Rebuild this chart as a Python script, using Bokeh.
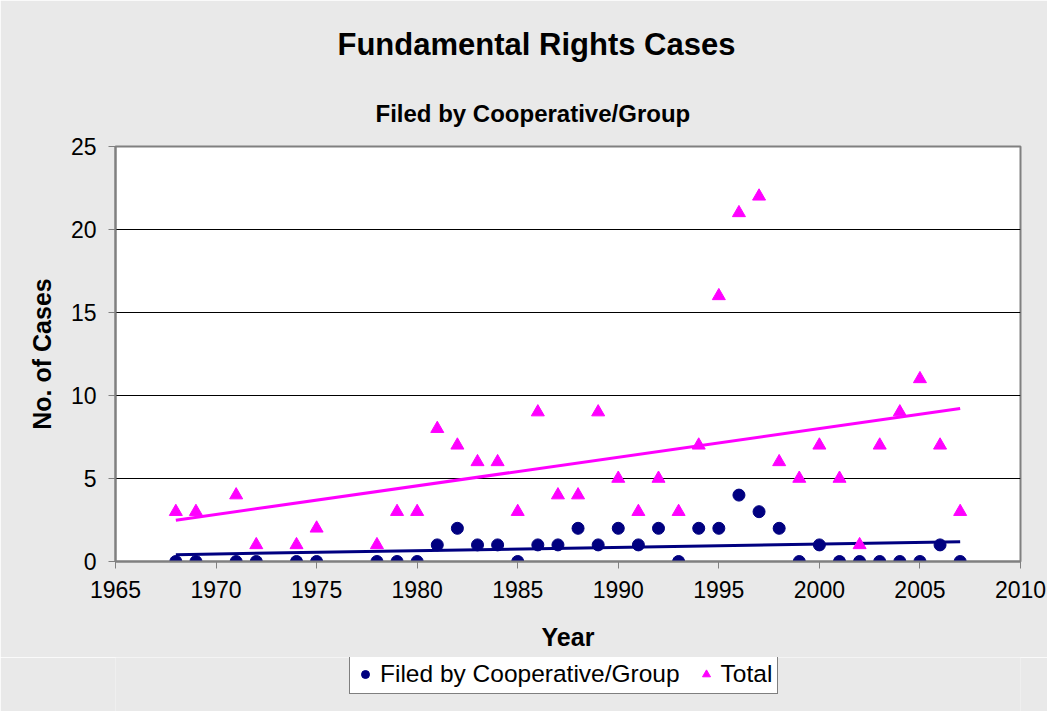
import numpy as np
from bokeh.plotting import figure
from bokeh.layouts import column
from bokeh.models import Legend, LegendItem, Range1d, FixedTicker, Title
from bokeh.embed import file_html
from bokeh.resources import INLINE

years = [1968, 1969, 1971, 1972, 1974, 1975, 1978, 1979, 1980, 1981, 1982, 1983,
         1984, 1985, 1986, 1987, 1988, 1989, 1990, 1991, 1992, 1993, 1994, 1995,
         1996, 1997, 1998, 1999, 2000, 2001, 2002, 2003, 2004, 2005, 2006, 2007]
cooperative = [0, 0, 0, 0, 0, 0, 0, 0, 0, 1, 2, 1,
               1, 0, 1, 1, 2, 1, 2, 1, 2, 0, 2, 2,
               4, 3, 2, 0, 1, 0, 0, 0, 0, 0, 1, 0]
total = [3, 3, 4, 1, 1, 2, 1, 3, 3, 8, 7, 6,
         6, 3, 9, 4, 4, 9, 5, 3, 5, 3, 7, 16,
         21, 22, 6, 5, 7, 5, 1, 7, 9, 11, 7, 3]
x_ticks = [1965, 1970, 1975, 1980, 1985, 1990, 1995, 2000, 2005, 2010]
y_ticks = [0, 5, 10, 15, 20, 25]
series_names = ["Filed by Cooperative/Group", "Total"]

FONT = "Liberation Sans"
BG = "#e9e9e9"
NAVY = "#000080"
MAGENTA = "#ff00ff"

p = figure(frame_width=905, frame_height=415, output_backend="svg",
           toolbar_location=None,
           x_range=Range1d(1965, 2010), y_range=Range1d(0, 25),
           min_border_left=115, min_border_right=27, min_border_top=146,
           min_border_bottom=96, title=None)
p.background_fill_color = "white"
p.border_fill_color = BG
p.outline_line_color = "#808080"
p.outline_line_width = 2

p.xgrid.grid_line_color = None
p.ygrid.grid_line_color = "black"
p.ygrid.grid_line_width = 1
p.ygrid.ticker = FixedTicker(ticks=y_ticks)

for ax, ticks in ((p.xaxis[0], x_ticks), (p.yaxis[0], y_ticks)):
    ax.ticker = FixedTicker(ticks=ticks)
    ax.axis_line_color = "#808080"
    ax.axis_line_width = 2
    ax.major_tick_line_color = "#808080"
    ax.major_tick_line_width = 1
    ax.major_tick_out = 7
    ax.major_tick_in = 0
    ax.minor_tick_line_color = None
    ax.major_label_text_font = FONT
    ax.major_label_text_font_size = "23px"
    ax.major_label_text_color = "black"
    ax.axis_label_text_font = FONT
    ax.axis_label_text_font_size = "25px"
    ax.axis_label_text_font_style = "bold"
    ax.axis_label_text_color = "black"

p.xaxis.axis_label = "Year"
p.yaxis.axis_label = "No. of Cases"
p.xaxis.major_label_standoff = 12
p.yaxis.major_label_standoff = 12
p.xaxis.axis_label_standoff = 22
p.yaxis.axis_label_standoff = 12

# trend lines (least squares fit of the data)
ya = np.array(years, dtype=float)
c1 = np.polyfit(ya, np.array(cooperative, dtype=float), 1)
c2 = np.polyfit(ya, np.array(total, dtype=float), 1)
xl = [years[0], years[-1]]
p.line(xl, list(np.polyval(c2, xl)), line_color=MAGENTA, line_width=3)
p.line(xl, list(np.polyval(c1, xl)), line_color=NAVY, line_width=3)

p.scatter(years, total, marker="triangle", size=13,
          fill_color=MAGENTA, line_color=MAGENTA)
p.scatter(years, cooperative, marker="circle", size=12,
          fill_color=NAVY, line_color=NAVY)

sub = Title(text="Filed by Cooperative/Group", align="left", offset=260,
            text_font=FONT, text_font_size="24px", text_font_style="bold",
            text_color="black", standoff=40)
p.add_layout(sub, "above")
ttl = Title(text="Fundamental Rights Cases", align="left", offset=222,
            text_font=FONT, text_font_size="31px", text_font_style="bold",
            text_color="black", standoff=31)
p.add_layout(ttl, "above")

# legend strip below the chart (its frame is aligned with the chart's frame)
lg = figure(width=1047, height=54, output_backend="svg", toolbar_location=None,
            x_range=Range1d(0, 1), y_range=Range1d(0, 1),
            x_axis_type=None, y_axis_type=None,
            min_border_left=0, min_border_right=0, min_border_top=0,
            min_border_bottom=0, title=None)
lg.background_fill_color = BG
lg.border_fill_color = BG
lg.outline_line_color = None
lg.xgrid.grid_line_color = None
lg.ygrid.grid_line_color = None
# same series, lying outside this strip's ranges: only their legend icons show
d_coop = lg.scatter(years, cooperative, marker="circle", size=12,
                    fill_color=NAVY, line_color=NAVY)
d_tot = lg.scatter(years, total, marker="triangle", size=13,
                   fill_color=MAGENTA, line_color=MAGENTA)

legend = Legend(items=[LegendItem(label=series_names[0], renderers=[d_coop]),
                       LegendItem(label=series_names[1], renderers=[d_tot])],
                orientation="horizontal", location=(234, 17),
                label_text_font=FONT, label_text_font_size="24.5px",
                label_text_color="black",
                glyph_width=20, glyph_height=20, padding=5, margin=0,
                label_standoff=5, spacing=16,
                border_line_color="black", border_line_width=1,
                background_fill_color="white", background_fill_alpha=1)
lg.add_layout(legend)

layout = column(p, lg, spacing=0)
open("out.html", "w").write(file_html(layout, INLINE))
